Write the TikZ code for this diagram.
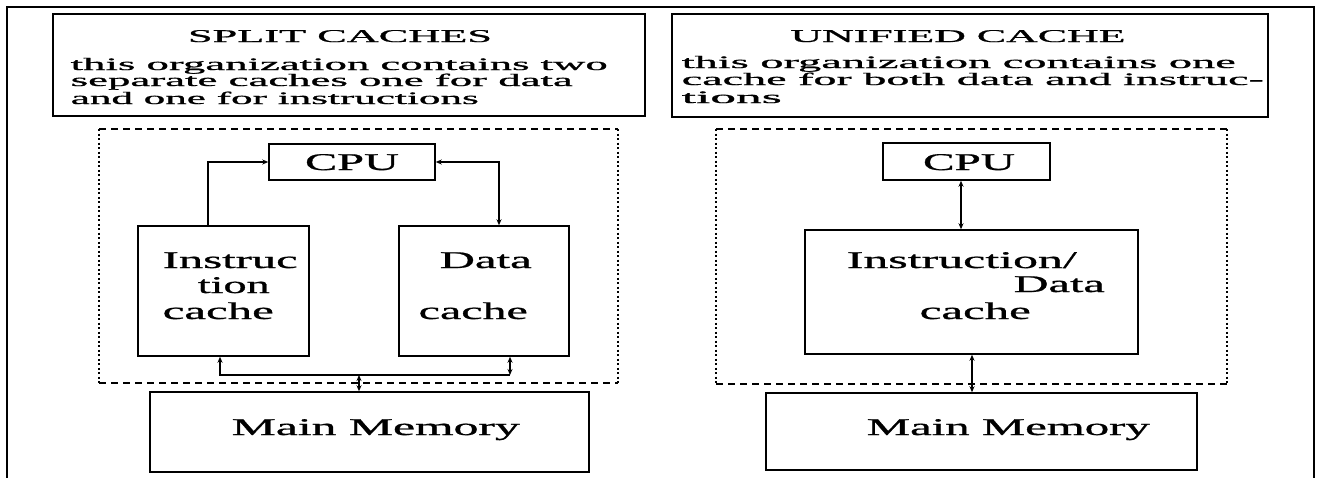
\documentclass[tikz,border=0pt]{standalone}
\usepackage{fontspec}
\setmainfont[FakeBold=0.8]{Liberation Serif}
\usepackage{graphicx}
\usetikzlibrary{arrows.meta}
\newcommand{\wl}[2]{\resizebox{#1}{\height}{#2}}
\begin{document}
\begin{tikzpicture}[x=1pt,y=-1pt,line width=1.5pt,
  >={Stealth[length=6pt,width=5pt]},
  box/.style={draw,rectangle,inner sep=0pt,line width=1.5pt},
  txt/.style={inner sep=0pt,anchor=base west},
  ctxt/.style={inner sep=0pt,anchor=base},
  big/.style={font=\fontsize{24}{24}\selectfont},
  head/.style={font=\fontsize{18}{18}\selectfont},
  small/.style={font=\fontsize{17.5}{17.5}\selectfont},
  hdash/.style={line width=1.3pt,dash pattern=on 7pt off 5pt},
  vdot/.style={line width=1.3pt,dash pattern=on 2pt off 2.5pt},
  conn/.style={line width=1.5pt}]
\useasboundingbox (0,0) rectangle (1321,477);
\clip (0,0) rectangle (1321,477);
% outer frame
\draw[line width=1.4pt] (7,490) -- (7,7) -- (1314,7) -- (1314,490);

% ================= LEFT PANEL =================
\node[box,minimum width=592pt,minimum height=102pt] (tL) at (349,65) {};
\node[ctxt,head] (tLh) at (340,42) {\wl{304pt}{SPLIT CACHES}};
\node[txt,small] (tL1) at (70,70) {\wl{537pt}{this organization contains two}};
\node[txt,small] (tL2) at (70,86) {\wl{502pt}{separate caches one for data}};
\node[txt,small] (tL3) at (70,104) {\wl{408pt}{and one for instructions}};

% dashed enclosure
\draw[hdash] (99,129) -- (618,129);
\draw[hdash] (99,383) -- (618,383);
\draw[vdot] (99,129) -- (99,383);
\draw[vdot] (618,129) -- (618,383);

\node[box,minimum width=166pt,minimum height=36pt] (cpuL) at (352,162) {};
\node[ctxt,big] (cpuLt) at (352,170) {\wl{94pt}{CPU}};

\node[box,minimum width=171pt,minimum height=130pt] (ic) at (223.5,291) {};
\node[txt,big] (ic1) at (162,268) {\wl{135pt}{Instruc}};
\node[txt,big] (ic2) at (197,293) {\wl{72pt}{tion}};
\node[txt,big] (ic3) at (162,319) {\wl{111pt}{cache}};

\node[box,minimum width=170pt,minimum height=130pt] (dc) at (484,291) {};
\node[txt,big] (dc1) at (439,268) {\wl{92pt}{Data}};
\node[txt,big] (dc2) at (418,319) {\wl{109pt}{cache}};

\node[box,minimum width=439pt,minimum height=80pt] (mmL) at (369.5,432) {};
\node[txt,big] (mmLt) at (231,435) {\wl{288pt}{Main Memory}};

% connectors left
\coordinate (icT) at (208,226);
\coordinate (dcT) at (499,226);
\draw[conn,->] (ic.north -| icT) |- (cpuL.west);
\draw[conn,<->] (cpuL.east) -| (dc.north -| dcT);
\coordinate (busL) at (220,375);
\coordinate (busR) at (510,375);
\coordinate (busM) at (359,375);
\draw[conn,<-] (ic.south -| busL) -- (busL) -- (busR);
\draw[conn,<->] (dc.south -| busR) -- (busR);
\draw[conn,<->] (busM) -- (mmL.north -| busM);

% ================= RIGHT PANEL =================
\node[box,minimum width=596pt,minimum height=103pt] (tR) at (970,65.5) {};
\node[ctxt,head] (tRh) at (958,42) {\wl{335pt}{UNIFIED CACHE}};
\node[txt,small] (tR1) at (681,68) {\wl{554pt}{this organization contains one}};
\node[txt,small] (tR2) at (681,85) {\wl{582pt}{cache for both data and instruc-}};
\node[txt,small] (tR3) at (681,103) {\wl{100pt}{tions}};

\draw[hdash] (716,129) -- (1227,129);
\draw[hdash] (716,384) -- (1227,384);
\draw[vdot] (716,129) -- (716,384);
\draw[vdot] (1227,129) -- (1227,384);

\node[box,minimum width=167pt,minimum height=37pt] (cpuR) at (966.5,161.5) {};
\node[ctxt,big] (cpuRt) at (969,170) {\wl{92pt}{CPU}};

\node[box,minimum width=333pt,minimum height=124pt] (uc) at (971.5,292) {};
\node[txt,big] (uc1) at (846,268) {\wl{230pt}{Instruction/}};
\node[txt,big] (uc2) at (1013,292) {\wl{91pt}{Data}};
\node[txt,big] (uc3) at (919,319) {\wl{111pt}{cache}};

\node[box,minimum width=431pt,minimum height=77pt] (mmR) at (981.5,431.5) {};
\node[txt,big] (mmRt) at (866,435) {\wl{283pt}{Main Memory}};

\coordinate (aT) at (961,200);
\coordinate (aB) at (972,370);
\draw[conn,<->] (cpuR.south -| aT) -- (uc.north -| aT);
\draw[conn,<->] (uc.south -| aB) -- (mmR.north -| aB);
\end{tikzpicture}
\end{document}
